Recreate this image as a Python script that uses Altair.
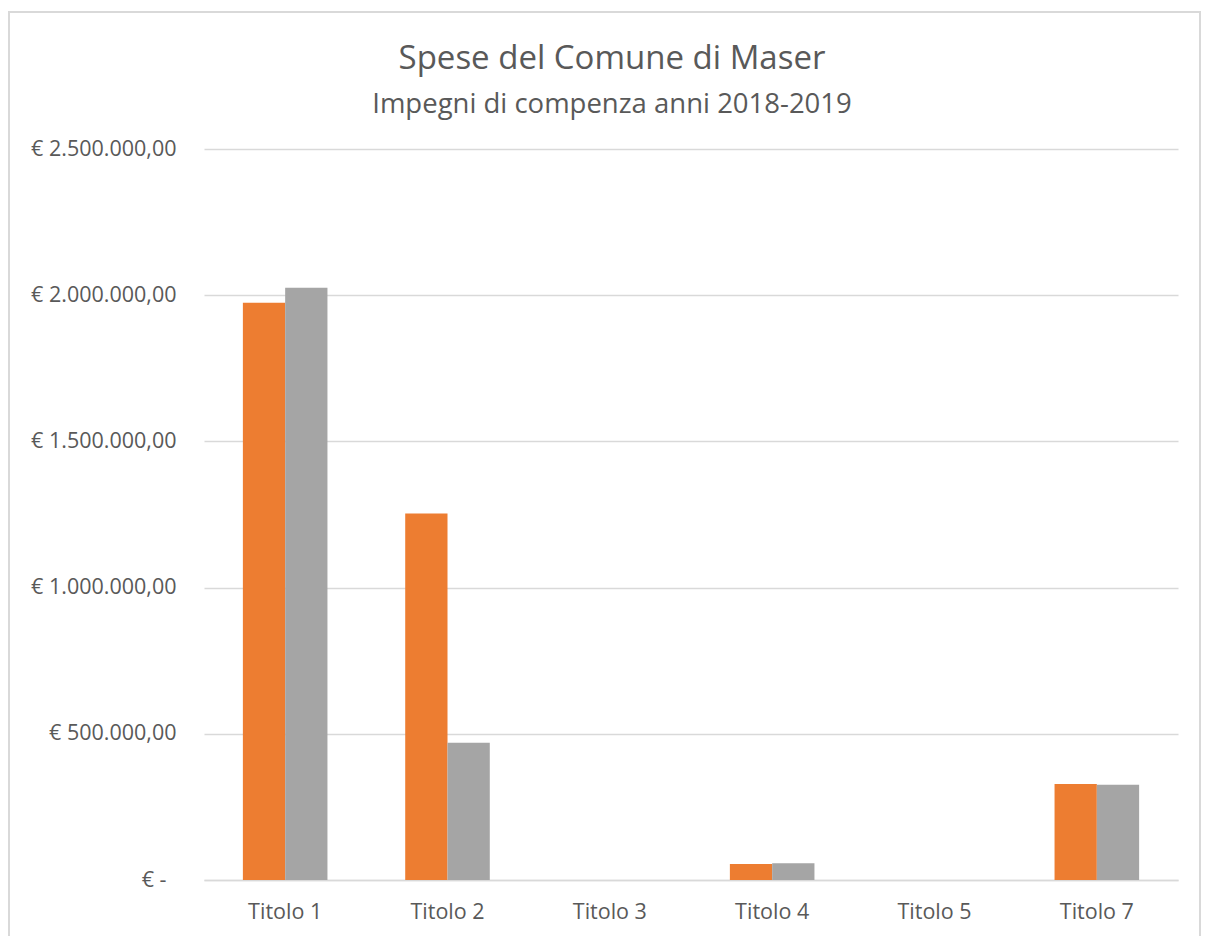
import altair as alt
import pandas as pd

categories = ["Titolo 1", "Titolo 2", "Titolo 3", "Titolo 4", "Titolo 5", "Titolo 7"]
years = ["2018", "2019"]
values_2018 = [1974000, 1253000, 0, 54700, 0, 328300]
values_2019 = [2025600, 469500, 0, 57000, 0, 325900]
tick_values = [0, 500000, 1000000, 1500000, 2000000, 2500000]
tick_labels = ["€ -", "€ 500.000,00", "€ 1.000.000,00", "€ 1.500.000,00",
               "€ 2.000.000,00", "€ 2.500.000,00"]
colors = ["#ED7D31", "#A5A5A5"]

rows = []
for c, a, b in zip(categories, values_2018, values_2019):
    rows.append({"cat": c, "anno": years[0], "val": a})
    rows.append({"cat": c, "anno": years[1], "val": b})
df = pd.DataFrame(rows)

FONT = "Open Sans"
label_expr = "[" + ",".join("'" + t + "'" for t in tick_labels) + "][round(datum.value/500000)]"

bars = alt.Chart(df).mark_bar().encode(
    x=alt.X("cat:N", sort=categories, title=None,
            scale=alt.Scale(paddingInner=0.479, paddingOuter=0.2395),
            axis=alt.Axis(labelAngle=0, ticks=False, domainColor="#D9D9D9", domainWidth=1.3,
                          labelFont=FONT, labelFontSize=21.5, labelColor="#595959",
                          labelPadding=21, grid=False)),
    xOffset=alt.XOffset("anno:N", scale=alt.Scale(paddingInner=0, paddingOuter=0)),
    y=alt.Y("val:Q", title=None,
            scale=alt.Scale(domain=[0, 2500000], nice=False),
            axis=alt.Axis(values=tick_values, labelExpr=label_expr, domain=False, ticks=False,
                          gridColor="#D9D9D9", gridWidth=1.3, labelFont=FONT, labelFontSize=21.5,
                          labelColor="#595959",
                          labelPadding=alt.ExprRef("datum.value === 0 ? 38 : 28"))),
    color=alt.Color("anno:N", scale=alt.Scale(domain=years, range=colors), legend=None),
)

frame = alt.Chart(df).mark_rect(fill=None, stroke="#D9D9D9", strokeWidth=1.5).encode(
    x=alt.value(-195), x2=alt.value(996), y=alt.value(-137), y2=alt.value(800)
)

chart = alt.layer(frame, bars).properties(
    width=974, height=731,
    autosize=alt.AutoSizeParams(type="none"),
    padding={"left": 196, "top": 141, "right": 23, "bottom": 56},
    title=alt.TitleParams(
        text="Spese del Comune di Maser",
        subtitle="Impegni di compenza anni 2018-2019",
        font=FONT, fontSize=33, fontWeight="normal", color="#595959",
        subtitleFont=FONT, subtitleFontSize=27.5, subtitleColor="#595959",
        anchor="middle", frame="group", dx=-79, dy=107, offset=0, subtitlePadding=15,
    ),
).configure_view(stroke=None)

chart.save("out.html", embed_options={"renderer": "svg", "actions": False})
